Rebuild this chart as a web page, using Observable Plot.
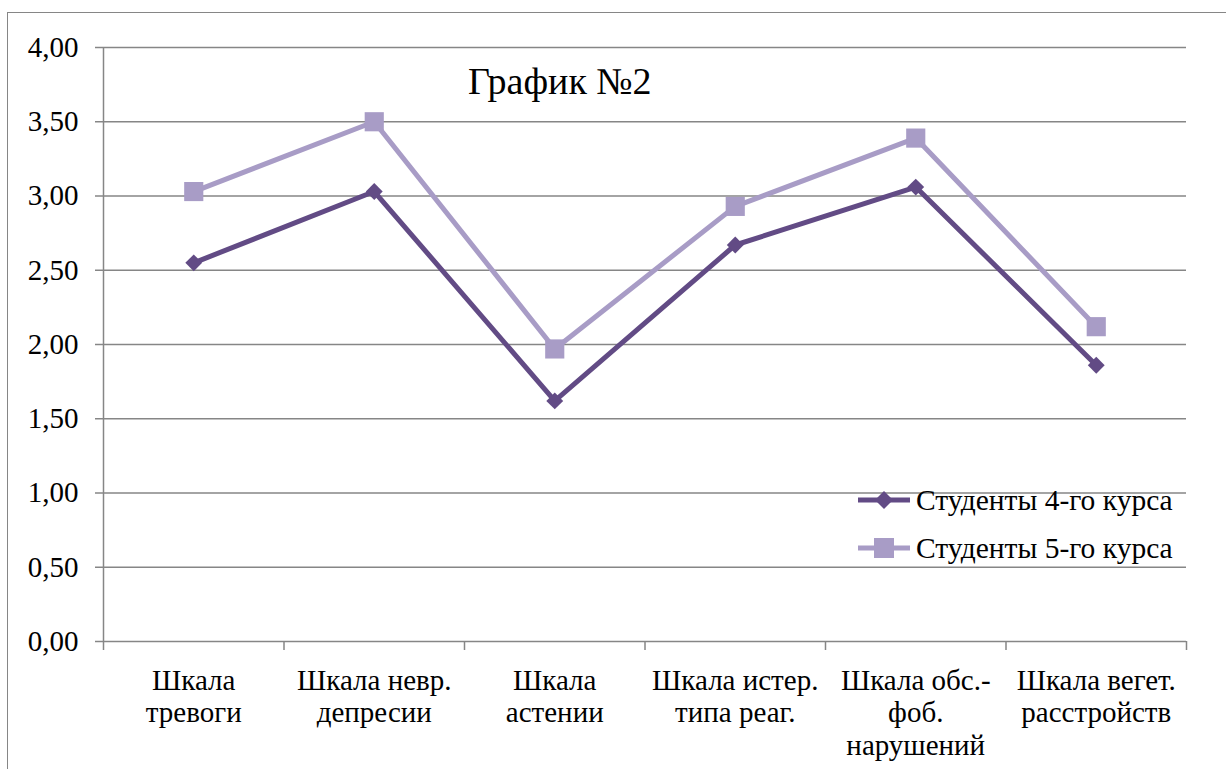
<!DOCTYPE html>
<html>
<head>
<meta charset="utf-8">
<script src="https://cdn.jsdelivr.net/npm/d3@7"></script>
<script src="https://cdn.jsdelivr.net/npm/@observablehq/plot@0.6"></script>
<style>
  html, body { margin: 0; padding: 0; background: #fff; overflow: hidden; }
  #wrap { position: relative; width: 1226px; height: 769px; overflow: hidden; }
  #border { position: absolute; left: 7px; top: 12px; width: 1400px; height: 1000px; border: 1.5px solid #868686; }
  #chart { position: absolute; left: 0; top: 0; }
  .title { position: absolute; left: 468px; top: 62px; font-family: 'Liberation Serif', serif; font-size: 38px; line-height: 1; color: #000; white-space: nowrap; }
  .legend { position: absolute; left: 856px; top: 476px; font-family: 'Liberation Serif', serif; font-size: 29.5px; color: #000; }
  .legend .row { display: flex; align-items: center; height: 48px; white-space: nowrap; }
  .legend svg { margin-right: 4px; }
</style>
</head>
<body>
<div id="wrap">
  <div id="border"></div>
  <div id="chart"></div>
  <div class="title">График №2</div>
  <div class="legend" id="legend"></div>
</div>
<script>
const categories = [
  "Шкала\nтревоги",
  "Шкала невр.\nдепресии",
  "Шкала\nастении",
  "Шкала истер.\nтипа реаг.",
  "Шкала обс.-\nфоб.\nнарушений",
  "Шкала вегет.\nрасстройств"
];
const seriesNames = ["Студенты 4-го курса", "Студенты 5-го курса"];
const students4 = [2.55, 3.03, 1.62, 2.67, 3.06, 1.86];
const students5 = [3.03, 3.50, 1.97, 2.93, 3.39, 2.12];
const yTicks = [0, 0.5, 1, 1.5, 2, 2.5, 3, 3.5, 4];
const seriesColors = ["#624b85", "#a89cc6"];

const idx = categories.map((_, i) => i);
const bounds = [-0.5, ...idx.map(i => i + 0.5)];

const data4 = students4.map((v, i) => ({series: seriesNames[0], i, value: v}));
const data5 = students5.map((v, i) => ({series: seriesNames[1], i, value: v}));

const fmt = d => d.toFixed(2).replace(".", ",");
const grid = "#868686";
const serif = "Liberation Serif, serif";

const chart = Plot.plot({
  width: 1226,
  height: 769,
  marginLeft: 103,
  marginRight: 40,
  marginTop: 47,
  marginBottom: 128,
  style: {fontFamily: serif, fontSize: "29px", background: "transparent", color: "#000"},
  x: {domain: [-0.5, 5.5], axis: null},
  y: {domain: [0, 4], axis: null},
  marks: [
    Plot.ruleY(yTicks, {stroke: grid, strokeWidth: 1.5}),
    Plot.ruleX([-0.5], {y1: 0, y2: 4, stroke: grid, strokeWidth: 1.5}),
    Plot.axisY({ticks: yTicks, label: null, tickSize: 8, tickPadding: 17, tickFormat: fmt, stroke: grid, strokeWidth: 1.5, fill: "#000", fontSize: 29, fontVariant: "normal"}),
    Plot.axisX({ticks: bounds, label: null, tickSize: 9, tickFormat: () => "", stroke: grid, strokeWidth: 1.5}),
    Plot.axisX({ticks: idx, label: null, tickSize: 0, tickPadding: 25, tickFormat: i => categories[i], fill: "#000", fontSize: 29, lineHeight: 1.12}),
    Plot.line(data4, {x: "i", y: "value", stroke: seriesColors[0], strokeWidth: 5}),
    Plot.line(data5, {x: "i", y: "value", stroke: seriesColors[1], strokeWidth: 5}),
    Plot.dot(data4, {x: "i", y: "value", fill: seriesColors[0], symbol: "diamond2", r: 7.6, stroke: "none"}),
    Plot.dot(data5, {x: "i", y: "value", fill: seriesColors[1], symbol: "square", r: 10.8, stroke: "none"})
  ]
});
chart.setAttribute("font-family", serif);
chart.querySelectorAll("text").forEach(t => t.setAttribute("font-family", serif));
document.getElementById("chart").appendChild(chart);

const legend = document.getElementById("legend");
seriesNames.forEach((name, s) => {
  const row = document.createElement("div");
  row.className = "row";
  const marker = s === 0
    ? `<path d="M28,2 L37,11 L28,20 L19,11 Z" fill="${seriesColors[s]}"/>`
    : `<rect x="18" y="1" width="20" height="20" fill="${seriesColors[s]}"/>`;
  row.innerHTML = `<svg width="56" height="22"><line x1="2" y1="11" x2="54" y2="11" stroke="${seriesColors[s]}" stroke-width="5"/>${marker}</svg><span>${name}</span>`;
  legend.appendChild(row);
});
</script>
</body>
</html>
